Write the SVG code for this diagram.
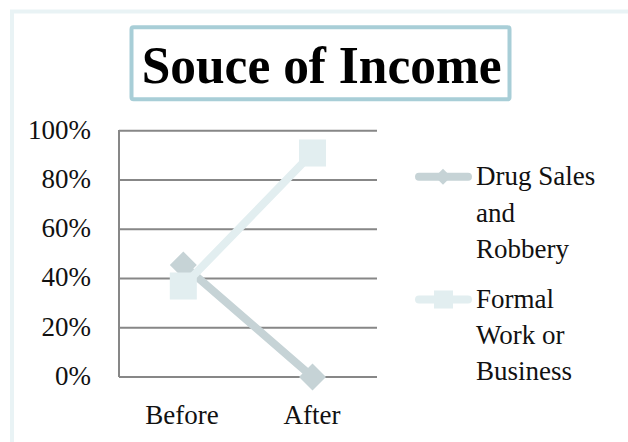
<svg xmlns="http://www.w3.org/2000/svg" width="628" height="442" viewBox="0 0 628 442">
<style>
.t{font-family:"Liberation Serif","Times New Roman",serif;font-size:27px;fill:#111}
.grid{stroke:#878787;stroke-width:2;fill:none}
.drug{stroke:#c6d3d6;stroke-width:8;fill:none;stroke-linecap:round}
.formal{stroke:#e2eef0;stroke-width:8;fill:none;stroke-linecap:round}
.dm{fill:#c6d3d6}
.sm{fill:#e2eef0}
</style>
<defs>
<path id="dia" d="M0,-13.5 L13.5,0 L0,13.5 L-13.5,0 Z"/>
</defs>
<rect x="0" y="0" width="628" height="442" fill="#ffffff"/>
<rect x="12" y="11.5" width="700" height="500" fill="none" stroke="#e9f3f5" stroke-width="4"/>
<g id="title">
<rect x="131.5" y="27.3" width="378" height="72" rx="2" fill="#ffffff" stroke="#a8ced7" stroke-width="4"/>
<text x="321.7" y="82.5" text-anchor="middle" font-family="Liberation Serif, Times New Roman, serif" font-size="53" font-weight="bold" fill="#000" textLength="360" lengthAdjust="spacingAndGlyphs">Souce of Income</text>
</g>
<g id="axes">
<path class="grid" d="M119,130.7H377 M119,180H377 M119,229.3H377 M119,278.5H377 M119,327.8H377 M119,377H377 M119,130V377"/>
<text class="t" x="91" y="138.6" text-anchor="end">100%</text>
<text class="t" x="91" y="187.9" text-anchor="end">80%</text>
<text class="t" x="91" y="237.2" text-anchor="end">60%</text>
<text class="t" x="91" y="286.4" text-anchor="end">40%</text>
<text class="t" x="91" y="335.7" text-anchor="end">20%</text>
<text class="t" x="91" y="384.9" text-anchor="end">0%</text>
<text class="t" x="182" y="424" text-anchor="middle">Before</text>
<text class="t" x="312" y="424" text-anchor="middle">After</text>
</g>
<g id="connectors">
<g id="series-drug">
<path class="drug" d="M183.3,265 L312.5,377"/>
<use href="#dia" class="dm" x="183.3" y="265"/>
<use href="#dia" class="dm" x="312.5" y="377"/>
</g>
<g id="series-formal">
<path class="formal" d="M183.3,286 L312.5,153"/>
<rect class="sm" x="169.8" y="272.5" width="27" height="27"/>
<rect class="sm" x="299" y="139.5" width="27" height="27"/>
</g>
</g>
<g id="legend-drug">
<path class="drug" d="M419,176.7H468"/>
<path class="dm" d="M443,168.7 L451,176.7 L443,184.7 L435,176.7 Z"/>
<text class="t" x="476" y="185">Drug Sales</text>
<text class="t" x="476" y="221.5">and</text>
<text class="t" x="476" y="257.5">Robbery</text>
</g>
<g id="legend-formal">
<path class="formal" d="M419,299.5H468"/>
<rect class="sm" x="434" y="290.5" width="19" height="18"/>
<text class="t" x="476" y="307.7">Formal</text>
<text class="t" x="476" y="344">Work or</text>
<text class="t" x="476" y="380">Business</text>
</g>
</svg>
